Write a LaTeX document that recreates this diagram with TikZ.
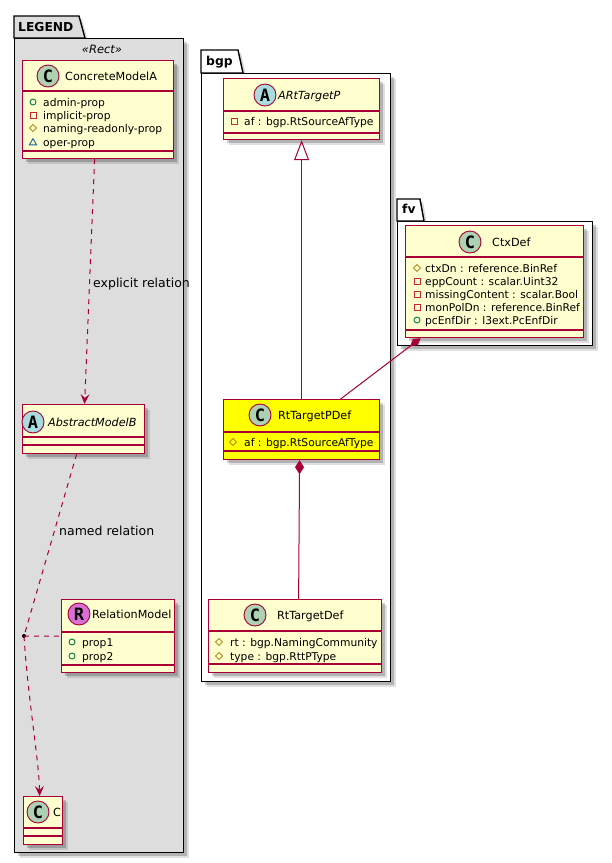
\documentclass[tikz,border=0pt]{standalone}
\usepackage{fontspec}
\setmainfont{DejaVu Sans}
\newfontfamily\spotfont{DejaVu Sans Mono}
\usetikzlibrary{arrows.meta,calc,shadows}
\definecolor{umlborder}{HTML}{A80036}
\definecolor{umlfill}{HTML}{FEFECE}
\definecolor{legendgray}{HTML}{DDDDDD}
\definecolor{spotC}{HTML}{ADD1B2}
\definecolor{spotA}{HTML}{A9DCDF}
\definecolor{spotR}{HTML}{DA70D6}
\definecolor{icpub}{HTML}{038048}
\definecolor{icpriv}{HTML}{C82930}
\definecolor{icprot}{HTML}{B38D22}
\definecolor{icpkg}{HTML}{1963A0}
\definecolor{hilite}{HTML}{FFFF00}
\tikzset{
  softshadow/.style={drop shadow={shadow xshift=5pt,shadow yshift=-5pt,opacity=.12,fill=black},
                     drop shadow={shadow xshift=3pt,shadow yshift=-3pt,opacity=.2,fill=black}},
  classbox/.style={rectangle, draw=umlborder, line width=1.2pt, fill=umlfill, inner sep=0pt,
                   anchor=north west, softshadow},
  sepline/.style={draw=umlborder, line width=1.2pt},
  pkgbody/.style={rectangle, draw=black, line width=1.4pt, inner sep=0pt, anchor=north west, softshadow},
  pkgtab/.style={draw=black, line width=1.4pt},
  pkgname/.style={anchor=base west, inner sep=0pt, font=\bfseries\fontsize{12.3}{14}\selectfont},
  spot/.style={circle, draw=umlborder, line width=0.9pt, minimum size=22pt, inner sep=0pt,
               font=\spotfont\bfseries\fontsize{17}{17}\selectfont},
  cname/.style={anchor=base west, inner sep=0pt, font=\fontsize{11.2}{13}\selectfont},
  aname/.style={anchor=base west, inner sep=0pt, font=\itshape\fontsize{11.2}{13}\selectfont},
  attr/.style={anchor=base west, inner sep=0pt, font=\fontsize{10.7}{12}\selectfont},
  elabel/.style={anchor=base west, inner sep=0pt, font=\fontsize{12.5}{14}\selectfont},
  rel/.style={draw=umlborder, line width=1pt},
  dep/.style={rel, dash pattern=on 5pt off 5pt},
  arr/.style={-{Stealth[length=10pt,width=9pt,inset=4pt]}},
  pub/.pic={\draw[icpub, line width=0.9pt] (0,0) circle (3pt);},
  priv/.pic={\draw[icpriv, line width=0.9pt] (-3,-3) rectangle (3,3);},
  prot/.pic={\draw[icprot, line width=0.9pt] (-3.6,0)--(0,-3.6)--(3.6,0)--(0,3.6)--cycle;},
  pkgv/.pic={\draw[icpkg, line width=0.9pt] (-3.6,2.8)--(3.6,2.8)--(0,-3.4)--cycle;},
}
\begin{document}
\begin{tikzpicture}[x=1pt,y=-1pt]
\useasboundingbox (0,0) rectangle (612,863);

% ---------- packages ----------
% LEGEND
\fill[black,opacity=.15] (17,19) -- (82,19) -- (88,41) -- (17,41) -- cycle;
\node[pkgbody, fill=legendgray, minimum width=169pt, minimum height=814pt] (legend) at (14,38) {};
\filldraw[pkgtab, fill=legendgray] (14,38) -- (14,16) -- (79,16) -- (85,38) -- cycle;
\node[pkgname] (legendname) at (18,31.5) {LEGEND};
\node[anchor=base, inner sep=0pt, font=\itshape\fontsize{11.5}{13}\selectfont] (stereo) at (102,53.5) {«Rect»};

% bgp
\fill[black,opacity=.15] (204,53) -- (241,53) -- (246,76) -- (204,76) -- cycle;
\node[pkgbody, fill=white, minimum width=189pt, minimum height=608pt] (bgp) at (201,73) {};
\filldraw[pkgtab, fill=white] (201,73) -- (201,50) -- (238,50) -- (243,73) -- cycle;
\node[pkgname] (bgpname) at (206,65.5) {bgp};

% fv
\fill[black,opacity=.15] (400,202) -- (423,202) -- (427,224) -- (400,224) -- cycle;
\node[pkgbody, fill=white, minimum width=195pt, minimum height=124pt] (fv) at (397,221) {};
\filldraw[pkgtab, fill=white] (397,221) -- (397,199) -- (420,199) -- (424,221) -- cycle;
\node[pkgname] (fvname) at (402,213) {fv};

% ---------- classes ----------
% ConcreteModelA
\node[classbox, minimum width=151pt, minimum height=98pt] (cma) at (22,60) {};
\draw[sepline] (22,91) -- (173,91);
\draw[sepline] (22,151) -- (173,151);
\node[spot, fill=spotC] (cmaspot) at (48,76) {C};
\node[cname] (cmaname) at (65,80.3) {ConcreteModelA};
\pic at (33,102) {pub};
\node[attr] (cmaa1) at (43,106) {admin-prop};
\pic at (33,115) {priv};
\node[attr] (cmaa2) at (43,119) {implicit-prop};
\pic at (33,128) {prot};
\node[attr] (cmaa3) at (43,132) {naming-readonly-prop};
\pic at (33,142) {pkgv};
\node[attr] (cmaa4) at (43,146) {oper-prop};

% AbstractModelB
\node[classbox, minimum width=122pt, minimum height=49pt] (amb) at (22,404) {};
\draw[sepline] (22,437) -- (144,437);
\draw[sepline] (22,445) -- (144,445);
\node[spot, fill=spotA] (ambspot) at (33,422) {A};
\node[aname] (ambname) at (48,426.3) {AbstractModelB};

% RelationModel
\node[classbox, minimum width=113pt, minimum height=73pt] (rm) at (61,599) {};
\draw[sepline] (61,632) -- (174,632);
\draw[sepline] (61,665) -- (174,665);
\node[spot, fill=spotR] (rmspot) at (79,614) {R};
\node[cname] (rmname) at (92,618.3) {RelationModel};
\pic at (72,642) {pub};
\node[attr] (rma1) at (82,646) {prop1};
\pic at (72,656) {pub};
\node[attr] (rma2) at (82,660) {prop2};

% C
\node[classbox, minimum width=39pt, minimum height=48pt] (cc) at (23,796) {};
\draw[sepline] (23,828) -- (62,828);
\draw[sepline] (23,836) -- (62,836);
\node[spot, fill=spotC] (ccspot) at (38,812) {C};
\node[cname] (ccname) at (53,816.3) {C};

% ARtTargetP
\node[classbox, minimum width=156pt, minimum height=61pt] (art) at (223,78) {};
\draw[sepline] (223,111) -- (379,111);
\draw[sepline] (223,133) -- (379,133);
\node[spot, fill=spotA] (artspot) at (265,95) {A};
\node[aname] (artname) at (278,99.3) {ARtTargetP};
\pic at (234,121) {priv};
\node[attr] (arta1) at (244,125) {af : bgp.RtSourceAfType};

% RtTargetPDef
\node[classbox, fill=hilite, minimum width=156pt, minimum height=60pt] (rtp) at (223,399) {};
\draw[sepline] (223,432) -- (379,432);
\draw[sepline] (223,451) -- (379,451);
\node[spot, fill=spotC] (rtpspot) at (260,415) {C};
\node[cname] (rtpname) at (278,419.3) {RtTargetPDef};
\pic at (233,442) {prot};
\node[attr] (rtpa1) at (244,446) {af : bgp.RtSourceAfType};

% RtTargetDef
\node[classbox, minimum width=173pt, minimum height=73pt] (rtd) at (208,599) {};
\draw[sepline] (208,631) -- (381,631);
\draw[sepline] (208,664) -- (381,664);
\node[spot, fill=spotC] (rtdspot) at (255,615) {C};
\node[cname] (rtdname) at (277,619.3) {RtTargetDef};
\pic at (219,642) {prot};
\node[attr] (rtda1) at (230,646) {rt : bgp.NamingCommunity};
\pic at (219,656) {prot};
\node[attr] (rtda2) at (230,660) {type : bgp.RttPType};

% CtxDef
\node[classbox, minimum width=178pt, minimum height=112pt] (ctx) at (405,225) {};
\draw[sepline] (405,257) -- (583,257);
\draw[sepline] (405,330) -- (583,330);
\node[spot, fill=spotC] (ctxspot) at (470,242) {C};
\node[cname] (ctxname) at (492,246.3) {CtxDef};
\pic at (417,268) {prot};
\node[attr] (ctxa1) at (425,272) {ctxDn : reference.BinRef};
\pic at (417,281) {priv};
\node[attr] (ctxa2) at (425,285) {eppCount : scalar.Uint32};
\pic at (417,294) {priv};
\node[attr] (ctxa3) at (425,298) {missingContent : scalar.Bool};
\pic at (417,307) {priv};
\node[attr] (ctxa4) at (425,311) {monPolDn : reference.BinRef};
\pic at (417,320) {pub};
\node[attr] (ctxa5) at (425,324) {pcEnfDir : l3ext.PcEnfDir};

% ---------- relations ----------
\node[circle, fill=black, inner sep=0pt, minimum size=4pt] (dot) at (24,636) {};

\draw[dep, arr] ([xshift=-3.5pt]cma.south) -- ([xshift=1pt]amb.north);
\node[elabel] (l1) at (93,287.5) {explicit relation};

\draw[dep] ([xshift=-7pt]amb.south) -- (dot.center);
\node[elabel] (l2) at (59,535.5) {named relation};
\draw[dep] (dot.center) -- (rm.west);
\draw[dep, arr] (dot.center) .. controls (28,700) and (39,760) .. ([xshift=-3.5pt]cc.north);

\draw[rel, -{Triangle[length=20pt,width=15pt,fill=white]}] (rtp.north) -- (art.south);
\draw[rel, -{Diamond[length=14pt,width=9pt]}] ([xshift=3.5pt]rtd.north) -- ([xshift=-2pt]rtp.south);
\draw[rel, -{Diamond[length=13pt,width=8pt]}] ([xshift=39pt]rtp.north) -- ([xshift=-74pt]ctx.south);
\end{tikzpicture}
\end{document}
